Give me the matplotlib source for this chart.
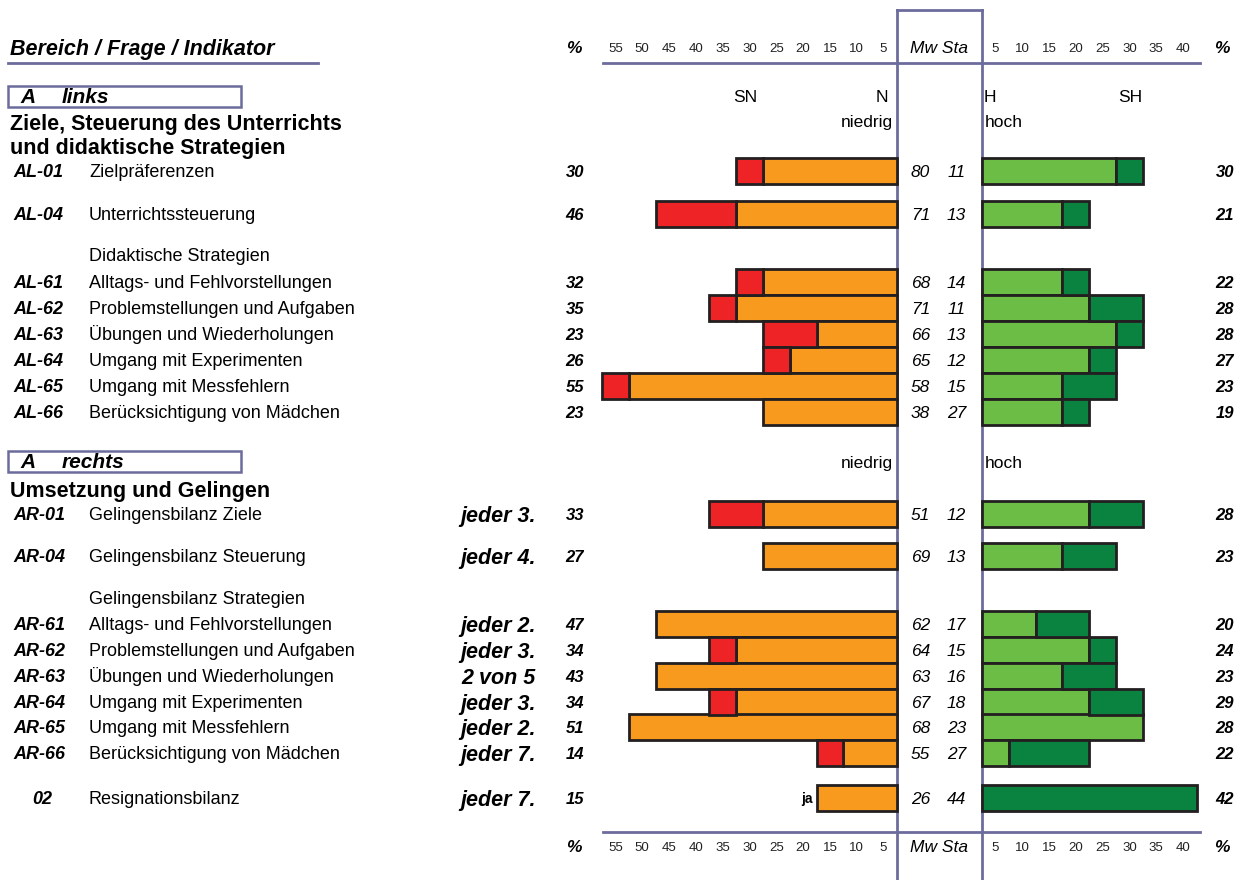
import numpy as np
import matplotlib.pyplot as plt
from matplotlib.patches import Rectangle

plt.rcParams['font.family'] = ['Liberation Sans', 'DejaVu Sans']

# --- data -------------------------------------------------------------
ids = ['AL-01', 'AL-04', 'AL-61', 'AL-62', 'AL-63', 'AL-64', 'AL-65', 'AL-66',
       'AR-01', 'AR-04', 'AR-61', 'AR-62', 'AR-63', 'AR-64', 'AR-65', 'AR-66', '02']
labels = ['Zielpräferenzen', 'Unterrichtssteuerung',
          'Alltags- und Fehlvorstellungen', 'Problemstellungen und Aufgaben',
          'Übungen und Wiederholungen', 'Umgang mit Experimenten',
          'Umgang mit Messfehlern', 'Berücksichtigung von Mädchen',
          'Gelingensbilanz Ziele', 'Gelingensbilanz Steuerung',
          'Alltags- und Fehlvorstellungen', 'Problemstellungen und Aufgaben',
          'Übungen und Wiederholungen', 'Umgang mit Experimenten',
          'Umgang mit Messfehlern', 'Berücksichtigung von Mädchen',
          'Resignationsbilanz']
quote = ['', '', '', '', '', '', '', '',
         'jeder 3.', 'jeder 4.', 'jeder 2.', 'jeder 3.', '2 von 5',
         'jeder 3.', 'jeder 2.', 'jeder 7.', 'jeder 7.']
pct_low = [30, 46, 32, 35, 23, 26, 55, 23, 33, 27, 47, 34, 43, 34, 51, 14, 15]
pct_high = [30, 21, 22, 28, 28, 27, 23, 19, 28, 23, 20, 24, 23, 29, 28, 22, 42]
mw = [80, 71, 68, 71, 66, 65, 58, 38, 51, 69, 62, 64, 63, 67, 68, 55, 26]
sta = [11, 13, 14, 11, 13, 12, 15, 27, 12, 13, 17, 15, 16, 18, 23, 27, 44]
# bar segments (%)
n_vals = [25, 30, 25, 30, 15, 20, 50, 25, 25, 25, 45, 30, 45, 30, 50, 10, 15]
sn_vals = [5, 15, 5, 5, 10, 5, 5, 0, 10, 0, 0, 5, 0, 5, 0, 5, 0]
h_vals = [25, 15, 15, 20, 25, 20, 15, 15, 20, 15, 10, 20, 15, 20, 30, 5, 0]
sh_vals = [5, 5, 5, 10, 5, 5, 10, 5, 10, 10, 10, 5, 10, 10, 0, 15, 40]
ticks = [5, 10, 15, 20, 25, 30, 35, 40, 45, 50, 55]

# --- layout (pixels) --------------------------------------------------
W, H = 1243, 880
row_y = [171, 214, 282, 308, 334, 360, 386, 412,
         514, 556, 624, 650, 676, 702, 727, 753, 798]
bar_h = 26
xl0, xc0, xc1, xr1 = 602, 897, 982, 1200
ppp = (xc0 - xl0) / 55.0
frame = '#6C6C9C'
c_sn, c_n, c_h, c_sh = '#EE2325', '#F79A1E', '#6BBD45', '#0A8240'

fig = plt.figure(figsize=(W / 100, H / 100), dpi=100)
bg = fig.add_axes([0, 0, 1, 1])
bg.set_xlim(0, W)
bg.set_ylim(H, 0)
bg.axis('off')

axl = fig.add_axes([xl0 / W, 0, (xc0 - xl0) / W, 1])
axr = fig.add_axes([xc1 / W, 0, (xr1 - xc1) / W, 1])
axl.set_xlim(55, 0)
axr.set_xlim(0, (xr1 - xc1) / ppp)
for a in (axl, axr):
    a.set_ylim(H, 0)
    a.axis('off')
    a.patch.set_alpha(0)


def txt(ax, x, y, s, size, **kw):
    # put the middle of the cap height on y
    return ax.text(x, y + 0.358 * size * 100 / 72, s, fontsize=size, va='baseline', **kw)


kw = dict(height=bar_h, edgecolor='#231F20', linewidth=2.0, clip_on=False)
axl.barh(row_y, n_vals, color=c_n, **kw)
axl.barh(row_y, sn_vals, left=n_vals, color=c_sn, **kw)
axr.barh(row_y, h_vals, color=c_h, **kw)
axr.barh(row_y, sh_vals, left=h_vals, color=c_sh, **kw)
for a in (axl, axr):
    for p in a.patches:
        if p.get_width() == 0:
            p.set_visible(False)

# centre frame and scale lines
bg.plot([xc0, xc0], [10, H], color=frame, lw=2, zorder=5)
bg.plot([xc1, xc1], [10, H], color=frame, lw=2, zorder=5)
bg.plot([xc0, xc1], [10, 10], color=frame, lw=2, zorder=5)
for yy in (63, 832):
    bg.plot([xl0 + 1, xr1], [yy, yy], color=frame, lw=2, zorder=5)
bg.plot([8, 318], [63, 63], color=frame, lw=2)


def scale(y):
    for t in ticks:
        txt(axl, t - 2.5, y, str(t), 9.5, ha='center', color='#222222')
    for t in ticks[:8]:
        txt(axr, t - 2.5, y, str(t), 9.5, ha='center', color='#222222')
    txt(bg, (xc0 + xc1) / 2, y, 'Mw Sta', 12.5, ha='center', style='italic')
    txt(bg, 574, y, '%', 12.5, ha='center', style='italic', weight='bold')
    txt(bg, 1222, y, '%', 12.5, ha='center', style='italic', weight='bold')


scale(47)
scale(846)
txt(bg, 10, 47, 'Bereich / Frage / Indikator', 15.5, ha='left', style='italic', weight='bold')

# section boxes
for yb, word, yl in ((96, 'links', 121), (461, 'rechts', 462)):
    bg.add_patch(Rectangle((8, yb - 10), 233, 21, fill=False, edgecolor=frame, lw=1.8))
    txt(bg, 20, yb, 'A', 15, ha='left', style='italic', weight='bold')
    txt(bg, 62, yb, word, 15, ha='left', style='italic', weight='bold')
    txt(bg, 893, yl, 'niedrig', 12.5, ha='right')
    txt(bg, 985, yl, 'hoch', 12.5, ha='left')

for x, s in ((745, 'SN'), (882, 'N'), (990, 'H'), (1130, 'SH')):
    txt(bg, x, 96, s, 12.5, ha='center')

txt(bg, 10, 122, 'Ziele, Steuerung des Unterrichts', 15.5, ha='left', weight='bold')
txt(bg, 10, 146, 'und didaktische Strategien', 15.5, ha='left', weight='bold')
txt(bg, 10, 489, 'Umsetzung und Gelingen', 15.5, ha='left', weight='bold')
txt(bg, 89, 255, 'Didaktische Strategien', 13, ha='left')
txt(bg, 89, 598, 'Gelingensbilanz Strategien', 13, ha='left')

for i, y in enumerate(row_y):
    if ids[i] == '02':
        txt(bg, 42, y, ids[i], 13, ha='center', style='italic', weight='bold')
    else:
        txt(bg, 13, y, ids[i], 13, ha='left', style='italic', weight='bold')
    txt(bg, 89, y, labels[i], 13, ha='left')
    if quote[i]:
        txt(bg, 536, y, quote[i], 15.5, ha='right', style='italic', weight='bold')
    txt(bg, 584, y, str(pct_low[i]), 12, ha='right', style='italic', weight='bold')
    txt(bg, 1234, y, str(pct_high[i]), 12, ha='right', style='italic', weight='bold')
    txt(bg, 930, y, str(mw[i]), 12.5, ha='right', style='italic')
    txt(bg, 966, y, str(sta[i]), 12.5, ha='right', style='italic')

txt(axl, n_vals[-1] + 0.8, row_y[-1], 'ja', 10, ha='right', weight='bold')

fig.savefig('out.png', dpi=100)
